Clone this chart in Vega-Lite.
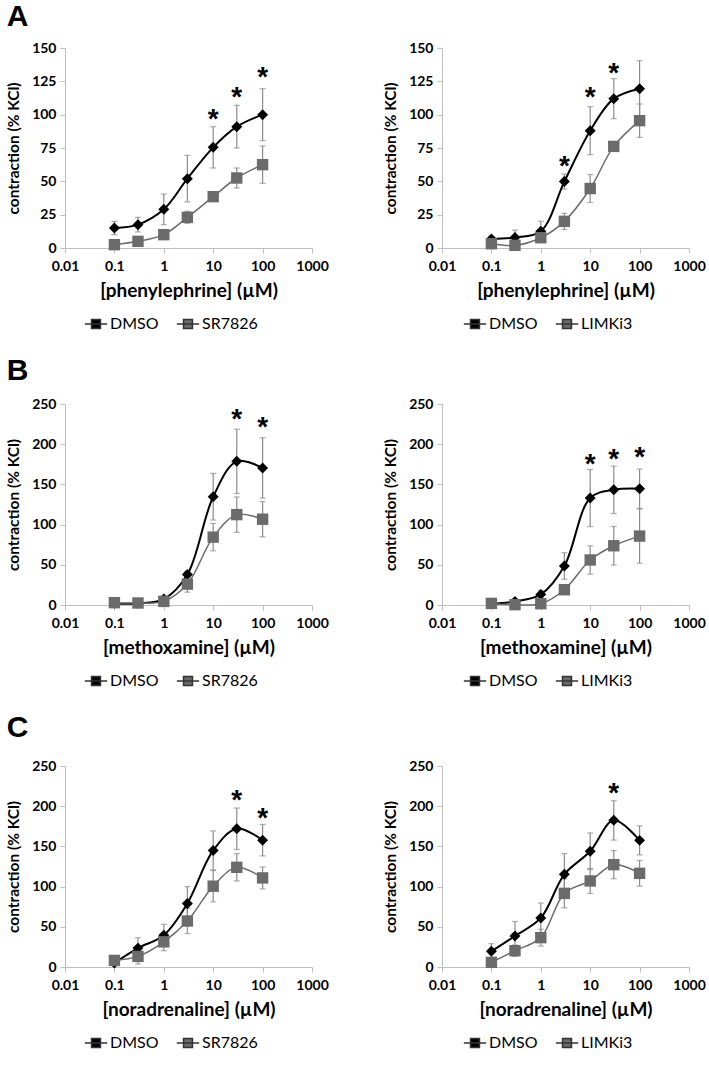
{
  "$schema": "https://vega.github.io/schema/vega-lite/v6.json",
  "padding": {"left": 6, "top": 2, "right": 0, "bottom": 5},
  "background": "white",
  "datasets": {
    "pts": [
      {"panel": "A1", "grp": "DMSO", "conc": 0.1, "value": 15, "err": 5},
      {"panel": "A1", "grp": "DMSO", "conc": 0.3, "value": 17.5, "err": 5.5},
      {"panel": "A1", "grp": "DMSO", "conc": 1, "value": 29, "err": 11.5},
      {"panel": "A1", "grp": "DMSO", "conc": 3, "value": 52, "err": 17.5},
      {"panel": "A1", "grp": "DMSO", "conc": 10, "value": 75.5, "err": 15.5},
      {"panel": "A1", "grp": "DMSO", "conc": 30, "value": 91, "err": 16},
      {"panel": "A1", "grp": "DMSO", "conc": 100, "value": 100, "err": 19.5},
      {"panel": "A1", "grp": "SR7826", "conc": 0.1, "value": 2.5, "err": 2},
      {"panel": "A1", "grp": "SR7826", "conc": 0.3, "value": 5, "err": 2},
      {"panel": "A1", "grp": "SR7826", "conc": 1, "value": 10, "err": 3},
      {"panel": "A1", "grp": "SR7826", "conc": 3, "value": 23, "err": 4.5},
      {"panel": "A1", "grp": "SR7826", "conc": 10, "value": 38.5, "err": 2},
      {"panel": "A1", "grp": "SR7826", "conc": 30, "value": 52.5, "err": 7.5},
      {"panel": "A1", "grp": "SR7826", "conc": 100, "value": 62.5, "err": 14},
      {"panel": "A2", "grp": "DMSO", "conc": 0.1, "value": 6.7, "err": 2},
      {"panel": "A2", "grp": "DMSO", "conc": 0.3, "value": 7.9, "err": 5.5},
      {"panel": "A2", "grp": "DMSO", "conc": 1, "value": 12.6, "err": 7.5},
      {"panel": "A2", "grp": "DMSO", "conc": 3, "value": 49.8, "err": 5.6},
      {"panel": "A2", "grp": "DMSO", "conc": 10, "value": 88, "err": 18},
      {"panel": "A2", "grp": "DMSO", "conc": 30, "value": 112, "err": 15},
      {"panel": "A2", "grp": "DMSO", "conc": 100, "value": 119.5, "err": 21},
      {"panel": "A2", "grp": "LIMKi3", "conc": 0.1, "value": 3.2, "err": 2},
      {"panel": "A2", "grp": "LIMKi3", "conc": 0.3, "value": 2, "err": 2},
      {"panel": "A2", "grp": "LIMKi3", "conc": 1, "value": 7.7, "err": 3},
      {"panel": "A2", "grp": "LIMKi3", "conc": 3, "value": 20, "err": 6},
      {"panel": "A2", "grp": "LIMKi3", "conc": 10, "value": 44.6, "err": 10.5},
      {"panel": "A2", "grp": "LIMKi3", "conc": 30, "value": 76.2, "err": 3.5},
      {"panel": "A2", "grp": "LIMKi3", "conc": 100, "value": 95.5, "err": 12.5},
      {"panel": "B1", "grp": "DMSO", "conc": 0.1, "value": 2, "err": 1},
      {"panel": "B1", "grp": "DMSO", "conc": 0.3, "value": 2, "err": 1},
      {"panel": "B1", "grp": "DMSO", "conc": 1, "value": 7.4, "err": 2},
      {"panel": "B1", "grp": "DMSO", "conc": 3, "value": 37.9, "err": 4},
      {"panel": "B1", "grp": "DMSO", "conc": 10, "value": 134.7, "err": 29},
      {"panel": "B1", "grp": "DMSO", "conc": 30, "value": 178.7, "err": 40},
      {"panel": "B1", "grp": "DMSO", "conc": 100, "value": 170.5, "err": 37.5},
      {"panel": "B1", "grp": "SR7826", "conc": 0.1, "value": 2.9, "err": 1.5},
      {"panel": "B1", "grp": "SR7826", "conc": 0.3, "value": 2.5, "err": 1.5},
      {"panel": "B1", "grp": "SR7826", "conc": 1, "value": 4.5, "err": 2},
      {"panel": "B1", "grp": "SR7826", "conc": 3, "value": 26, "err": 10},
      {"panel": "B1", "grp": "SR7826", "conc": 10, "value": 84.4, "err": 17},
      {"panel": "B1", "grp": "SR7826", "conc": 30, "value": 112.4, "err": 22},
      {"panel": "B1", "grp": "SR7826", "conc": 100, "value": 106.7, "err": 22},
      {"panel": "B2", "grp": "DMSO", "conc": 0.1, "value": 1.6, "err": 1},
      {"panel": "B2", "grp": "DMSO", "conc": 0.3, "value": 4.5, "err": 3},
      {"panel": "B2", "grp": "DMSO", "conc": 1, "value": 13.2, "err": 5},
      {"panel": "B2", "grp": "DMSO", "conc": 3, "value": 48.6, "err": 16.5},
      {"panel": "B2", "grp": "DMSO", "conc": 10, "value": 133, "err": 35.5},
      {"panel": "B2", "grp": "DMSO", "conc": 30, "value": 143.3, "err": 29.5},
      {"panel": "B2", "grp": "DMSO", "conc": 100, "value": 144.6, "err": 24.5},
      {"panel": "B2", "grp": "LIMKi3", "conc": 0.1, "value": 2, "err": 1},
      {"panel": "B2", "grp": "LIMKi3", "conc": 0.3, "value": 0.4, "err": 1},
      {"panel": "B2", "grp": "LIMKi3", "conc": 1, "value": 1.6, "err": 1},
      {"panel": "B2", "grp": "LIMKi3", "conc": 3, "value": 19, "err": 5},
      {"panel": "B2", "grp": "LIMKi3", "conc": 10, "value": 56, "err": 17.7},
      {"panel": "B2", "grp": "LIMKi3", "conc": 30, "value": 73.7, "err": 24},
      {"panel": "B2", "grp": "LIMKi3", "conc": 100, "value": 85.7, "err": 33.7},
      {"panel": "C1", "grp": "DMSO", "conc": 0.1, "value": 4.9, "err": 3},
      {"panel": "C1", "grp": "DMSO", "conc": 0.3, "value": 23.5, "err": 13},
      {"panel": "C1", "grp": "DMSO", "conc": 1, "value": 39.5, "err": 13.5},
      {"panel": "C1", "grp": "DMSO", "conc": 3, "value": 79, "err": 21},
      {"panel": "C1", "grp": "DMSO", "conc": 10, "value": 145, "err": 24.3},
      {"panel": "C1", "grp": "DMSO", "conc": 30, "value": 172, "err": 25.7},
      {"panel": "C1", "grp": "DMSO", "conc": 100, "value": 157.7, "err": 19.5},
      {"panel": "C1", "grp": "SR7826", "conc": 0.1, "value": 8.2, "err": 2},
      {"panel": "C1", "grp": "SR7826", "conc": 0.3, "value": 13.2, "err": 9.5},
      {"panel": "C1", "grp": "SR7826", "conc": 1, "value": 31.3, "err": 11},
      {"panel": "C1", "grp": "SR7826", "conc": 3, "value": 57.2, "err": 15.6},
      {"panel": "C1", "grp": "SR7826", "conc": 10, "value": 100.5, "err": 19.5},
      {"panel": "C1", "grp": "SR7826", "conc": 30, "value": 124, "err": 17},
      {"panel": "C1", "grp": "SR7826", "conc": 100, "value": 110.8, "err": 13.6},
      {"panel": "C2", "grp": "DMSO", "conc": 0.1, "value": 19.5, "err": 9.5},
      {"panel": "C2", "grp": "DMSO", "conc": 0.3, "value": 38.6, "err": 18},
      {"panel": "C2", "grp": "DMSO", "conc": 1, "value": 61, "err": 18.6},
      {"panel": "C2", "grp": "DMSO", "conc": 3, "value": 115.3, "err": 25.7},
      {"panel": "C2", "grp": "DMSO", "conc": 10, "value": 143.9, "err": 22.8},
      {"panel": "C2", "grp": "DMSO", "conc": 30, "value": 182.4, "err": 24.5},
      {"panel": "C2", "grp": "DMSO", "conc": 100, "value": 157.5, "err": 18},
      {"panel": "C2", "grp": "LIMKi3", "conc": 0.1, "value": 5.8, "err": 3},
      {"panel": "C2", "grp": "LIMKi3", "conc": 0.3, "value": 20.3, "err": 7},
      {"panel": "C2", "grp": "LIMKi3", "conc": 1, "value": 36.5, "err": 10.5},
      {"panel": "C2", "grp": "LIMKi3", "conc": 3, "value": 91.6, "err": 18},
      {"panel": "C2", "grp": "LIMKi3", "conc": 10, "value": 107, "err": 15.5},
      {"panel": "C2", "grp": "LIMKi3", "conc": 30, "value": 127.3, "err": 17.5},
      {"panel": "C2", "grp": "LIMKi3", "conc": 100, "value": 116.5, "err": 16}
    ],
    "stars": [
      {"panel": "A1", "conc": 10, "value": 101},
      {"panel": "A1", "conc": 30, "value": 118},
      {"panel": "A1", "conc": 100, "value": 132.5},
      {"panel": "A2", "conc": 3, "value": 66},
      {"panel": "A2", "conc": 10, "value": 118},
      {"panel": "A2", "conc": 30, "value": 135.4},
      {"panel": "B1", "conc": 30, "value": 238.9},
      {"panel": "B1", "conc": 100, "value": 228.6},
      {"panel": "B2", "conc": 10, "value": 182.5},
      {"panel": "B2", "conc": 30, "value": 188.6},
      {"panel": "B2", "conc": 100, "value": 191.5},
      {"panel": "C1", "conc": 30, "value": 214.6},
      {"panel": "C1", "conc": 100, "value": 192.3},
      {"panel": "C2", "conc": 30, "value": 224}
    ]
  },
  "spacing": 24,
  "resolve": {"scale": {"color": "independent"}, "legend": {"color": "independent"}},
  "vconcat": [
    {
      "title": {"text": "A", "offset": 9},
      "spacing": 54,
      "resolve": {"scale": {"color": "independent"}, "legend": {"color": "independent"}},
      "hconcat": [
        {
          "width": 247, "height": 200,
          "encoding": {
            "x": {"field": "conc", "type": "quantitative", "scale": {"type": "log", "domain": [0.01, 1000]}, "axis": {"values": [0.01, 0.1, 1, 10, 100, 1000], "format": "~g", "title": "[phenylephrine] (µM)", "labelOverlap": false, "labelFlush": false}},
            "y": {"field": "value", "type": "quantitative", "scale": {"domain": [0, 150], "nice": false}, "axis": {"values": [0, 25, 50, 75, 100, 125, 150], "title": "contraction (% KCl)"}}
          },
          "layer": [
            {"data": {"name": "pts"}, "transform": [{"filter": "datum.panel === 'A1'"}], "mark": {"type": "errorbar", "thickness": 1.2, "size": 6, "color": "#8c8c8c", "ticks": {"color": "#8c8c8c"}, "rule": {"color": "#8c8c8c"}}, "encoding": {"yError": {"field": "err"}}},
            {"data": {"name": "pts"}, "transform": [{"filter": "datum.panel === 'A1'"}], "mark": {"type": "line", "interpolate": "catmull-rom"}, "encoding": {"detail": {"field": "grp"}, "color": {"condition": {"test": "datum.grp === 'DMSO'", "value": "#000000"}, "value": "#6b6b6b"}, "strokeWidth": {"condition": {"test": "datum.grp === 'DMSO'", "value": 2}, "value": 1.5}}},
            {"data": {"name": "pts"}, "transform": [{"filter": "datum.panel === 'A1'"}], "mark": {"type": "point", "filled": true, "opacity": 1}, "encoding": {
              "color": {"field": "grp", "type": "nominal", "scale": {"domain": ["DMSO", "SR7826"], "range": ["#000000", "#6b6b6b"]}, "legend": {"orient": "none", "legendX": 19, "legendY": 264, "direction": "horizontal", "title": null}},
              "shape": {"condition": {"test": "datum.grp === 'DMSO'", "value": "diamond"}, "value": "square"},
              "size": {"condition": {"test": "datum.grp === 'DMSO'", "value": 120}, "value": 130}
            }},
            {"data": {"name": "stars"}, "transform": [{"filter": "datum.panel === 'A1'"}], "mark": {"type": "text", "text": "*", "fontSize": 28, "fontWeight": "bold", "font": "Liberation Sans", "baseline": "middle", "dy": 7, "color": "black"}}
          ]
        },
        {
          "width": 247, "height": 200,
          "encoding": {
            "x": {"field": "conc", "type": "quantitative", "scale": {"type": "log", "domain": [0.01, 1000]}, "axis": {"values": [0.01, 0.1, 1, 10, 100, 1000], "format": "~g", "title": "[phenylephrine] (µM)", "labelOverlap": false, "labelFlush": false}},
            "y": {"field": "value", "type": "quantitative", "scale": {"domain": [0, 150], "nice": false}, "axis": {"values": [0, 25, 50, 75, 100, 125, 150], "title": "contraction (% KCl)"}}
          },
          "layer": [
            {"data": {"name": "pts"}, "transform": [{"filter": "datum.panel === 'A2'"}], "mark": {"type": "errorbar", "thickness": 1.2, "size": 6, "color": "#8c8c8c", "ticks": {"color": "#8c8c8c"}, "rule": {"color": "#8c8c8c"}}, "encoding": {"yError": {"field": "err"}}},
            {"data": {"name": "pts"}, "transform": [{"filter": "datum.panel === 'A2'"}], "mark": {"type": "line", "interpolate": "catmull-rom"}, "encoding": {"detail": {"field": "grp"}, "color": {"condition": {"test": "datum.grp === 'DMSO'", "value": "#000000"}, "value": "#6b6b6b"}, "strokeWidth": {"condition": {"test": "datum.grp === 'DMSO'", "value": 2}, "value": 1.5}}},
            {"data": {"name": "pts"}, "transform": [{"filter": "datum.panel === 'A2'"}], "mark": {"type": "point", "filled": true, "opacity": 1}, "encoding": {
              "color": {"field": "grp", "type": "nominal", "scale": {"domain": ["DMSO", "LIMKi3"], "range": ["#000000", "#6b6b6b"]}, "legend": {"orient": "none", "legendX": 21, "legendY": 264, "direction": "horizontal", "title": null}},
              "shape": {"condition": {"test": "datum.grp === 'DMSO'", "value": "diamond"}, "value": "square"},
              "size": {"condition": {"test": "datum.grp === 'DMSO'", "value": 120}, "value": 130}
            }},
            {"data": {"name": "stars"}, "transform": [{"filter": "datum.panel === 'A2'"}], "mark": {"type": "text", "text": "*", "fontSize": 28, "fontWeight": "bold", "font": "Liberation Sans", "baseline": "middle", "dy": 7, "color": "black"}}
          ]
        }
      ]
    },
    {
      "title": {"text": "B", "offset": 11},
      "spacing": 54,
      "resolve": {"scale": {"color": "independent"}, "legend": {"color": "independent"}},
      "hconcat": [
        {
          "width": 247, "height": 201,
          "encoding": {
            "x": {"field": "conc", "type": "quantitative", "scale": {"type": "log", "domain": [0.01, 1000]}, "axis": {"values": [0.01, 0.1, 1, 10, 100, 1000], "format": "~g", "title": "[methoxamine] (µM)", "labelOverlap": false, "labelFlush": false}},
            "y": {"field": "value", "type": "quantitative", "scale": {"domain": [0, 250], "nice": false}, "axis": {"values": [0, 50, 100, 150, 200, 250], "title": "contraction (% KCl)"}}
          },
          "layer": [
            {"data": {"name": "pts"}, "transform": [{"filter": "datum.panel === 'B1'"}], "mark": {"type": "errorbar", "thickness": 1.2, "size": 6, "color": "#8c8c8c", "ticks": {"color": "#8c8c8c"}, "rule": {"color": "#8c8c8c"}}, "encoding": {"yError": {"field": "err"}}},
            {"data": {"name": "pts"}, "transform": [{"filter": "datum.panel === 'B1'"}], "mark": {"type": "line", "interpolate": "catmull-rom"}, "encoding": {"detail": {"field": "grp"}, "color": {"condition": {"test": "datum.grp === 'DMSO'", "value": "#000000"}, "value": "#6b6b6b"}, "strokeWidth": {"condition": {"test": "datum.grp === 'DMSO'", "value": 2}, "value": 1.5}}},
            {"data": {"name": "pts"}, "transform": [{"filter": "datum.panel === 'B1'"}], "mark": {"type": "point", "filled": true, "opacity": 1}, "encoding": {
              "color": {"field": "grp", "type": "nominal", "scale": {"domain": ["DMSO", "SR7826"], "range": ["#000000", "#6b6b6b"]}, "legend": {"orient": "none", "legendX": 19, "legendY": 265, "direction": "horizontal", "title": null}},
              "shape": {"condition": {"test": "datum.grp === 'DMSO'", "value": "diamond"}, "value": "square"},
              "size": {"condition": {"test": "datum.grp === 'DMSO'", "value": 120}, "value": 130}
            }},
            {"data": {"name": "stars"}, "transform": [{"filter": "datum.panel === 'B1'"}], "mark": {"type": "text", "text": "*", "fontSize": 28, "fontWeight": "bold", "font": "Liberation Sans", "baseline": "middle", "dy": 7, "color": "black"}}
          ]
        },
        {
          "width": 247, "height": 201,
          "encoding": {
            "x": {"field": "conc", "type": "quantitative", "scale": {"type": "log", "domain": [0.01, 1000]}, "axis": {"values": [0.01, 0.1, 1, 10, 100, 1000], "format": "~g", "title": "[methoxamine] (µM)", "labelOverlap": false, "labelFlush": false}},
            "y": {"field": "value", "type": "quantitative", "scale": {"domain": [0, 250], "nice": false}, "axis": {"values": [0, 50, 100, 150, 200, 250], "title": "contraction (% KCl)"}}
          },
          "layer": [
            {"data": {"name": "pts"}, "transform": [{"filter": "datum.panel === 'B2'"}], "mark": {"type": "errorbar", "thickness": 1.2, "size": 6, "color": "#8c8c8c", "ticks": {"color": "#8c8c8c"}, "rule": {"color": "#8c8c8c"}}, "encoding": {"yError": {"field": "err"}}},
            {"data": {"name": "pts"}, "transform": [{"filter": "datum.panel === 'B2'"}], "mark": {"type": "line", "interpolate": "catmull-rom"}, "encoding": {"detail": {"field": "grp"}, "color": {"condition": {"test": "datum.grp === 'DMSO'", "value": "#000000"}, "value": "#6b6b6b"}, "strokeWidth": {"condition": {"test": "datum.grp === 'DMSO'", "value": 2}, "value": 1.5}}},
            {"data": {"name": "pts"}, "transform": [{"filter": "datum.panel === 'B2'"}], "mark": {"type": "point", "filled": true, "opacity": 1}, "encoding": {
              "color": {"field": "grp", "type": "nominal", "scale": {"domain": ["DMSO", "LIMKi3"], "range": ["#000000", "#6b6b6b"]}, "legend": {"orient": "none", "legendX": 21, "legendY": 265, "direction": "horizontal", "title": null}},
              "shape": {"condition": {"test": "datum.grp === 'DMSO'", "value": "diamond"}, "value": "square"},
              "size": {"condition": {"test": "datum.grp === 'DMSO'", "value": 120}, "value": 130}
            }},
            {"data": {"name": "stars"}, "transform": [{"filter": "datum.panel === 'B2'"}], "mark": {"type": "text", "text": "*", "fontSize": 28, "fontWeight": "bold", "font": "Liberation Sans", "baseline": "middle", "dy": 7, "color": "black"}}
          ]
        }
      ]
    },
    {
      "title": {"text": "C", "offset": 16},
      "spacing": 54,
      "resolve": {"scale": {"color": "independent"}, "legend": {"color": "independent"}},
      "hconcat": [
        {
          "width": 247, "height": 201,
          "encoding": {
            "x": {"field": "conc", "type": "quantitative", "scale": {"type": "log", "domain": [0.01, 1000]}, "axis": {"values": [0.01, 0.1, 1, 10, 100, 1000], "format": "~g", "title": "[noradrenaline] (µM)", "labelOverlap": false, "labelFlush": false}},
            "y": {"field": "value", "type": "quantitative", "scale": {"domain": [0, 250], "nice": false}, "axis": {"values": [0, 50, 100, 150, 200, 250], "title": "contraction (% KCl)"}}
          },
          "layer": [
            {"data": {"name": "pts"}, "transform": [{"filter": "datum.panel === 'C1'"}], "mark": {"type": "errorbar", "thickness": 1.2, "size": 6, "color": "#8c8c8c", "ticks": {"color": "#8c8c8c"}, "rule": {"color": "#8c8c8c"}}, "encoding": {"yError": {"field": "err"}}},
            {"data": {"name": "pts"}, "transform": [{"filter": "datum.panel === 'C1'"}], "mark": {"type": "line", "interpolate": "catmull-rom"}, "encoding": {"detail": {"field": "grp"}, "color": {"condition": {"test": "datum.grp === 'DMSO'", "value": "#000000"}, "value": "#6b6b6b"}, "strokeWidth": {"condition": {"test": "datum.grp === 'DMSO'", "value": 2}, "value": 1.5}}},
            {"data": {"name": "pts"}, "transform": [{"filter": "datum.panel === 'C1'"}], "mark": {"type": "point", "filled": true, "opacity": 1}, "encoding": {
              "color": {"field": "grp", "type": "nominal", "scale": {"domain": ["DMSO", "SR7826"], "range": ["#000000", "#6b6b6b"]}, "legend": {"orient": "none", "legendX": 19, "legendY": 265, "direction": "horizontal", "title": null}},
              "shape": {"condition": {"test": "datum.grp === 'DMSO'", "value": "diamond"}, "value": "square"},
              "size": {"condition": {"test": "datum.grp === 'DMSO'", "value": 120}, "value": 130}
            }},
            {"data": {"name": "stars"}, "transform": [{"filter": "datum.panel === 'C1'"}], "mark": {"type": "text", "text": "*", "fontSize": 28, "fontWeight": "bold", "font": "Liberation Sans", "baseline": "middle", "dy": 7, "color": "black"}}
          ]
        },
        {
          "width": 247, "height": 201,
          "encoding": {
            "x": {"field": "conc", "type": "quantitative", "scale": {"type": "log", "domain": [0.01, 1000]}, "axis": {"values": [0.01, 0.1, 1, 10, 100, 1000], "format": "~g", "title": "[noradrenaline] (µM)", "labelOverlap": false, "labelFlush": false}},
            "y": {"field": "value", "type": "quantitative", "scale": {"domain": [0, 250], "nice": false}, "axis": {"values": [0, 50, 100, 150, 200, 250], "title": "contraction (% KCl)"}}
          },
          "layer": [
            {"data": {"name": "pts"}, "transform": [{"filter": "datum.panel === 'C2'"}], "mark": {"type": "errorbar", "thickness": 1.2, "size": 6, "color": "#8c8c8c", "ticks": {"color": "#8c8c8c"}, "rule": {"color": "#8c8c8c"}}, "encoding": {"yError": {"field": "err"}}},
            {"data": {"name": "pts"}, "transform": [{"filter": "datum.panel === 'C2'"}], "mark": {"type": "line", "interpolate": "catmull-rom"}, "encoding": {"detail": {"field": "grp"}, "color": {"condition": {"test": "datum.grp === 'DMSO'", "value": "#000000"}, "value": "#6b6b6b"}, "strokeWidth": {"condition": {"test": "datum.grp === 'DMSO'", "value": 2}, "value": 1.5}}},
            {"data": {"name": "pts"}, "transform": [{"filter": "datum.panel === 'C2'"}], "mark": {"type": "point", "filled": true, "opacity": 1}, "encoding": {
              "color": {"field": "grp", "type": "nominal", "scale": {"domain": ["DMSO", "LIMKi3"], "range": ["#000000", "#6b6b6b"]}, "legend": {"orient": "none", "legendX": 21, "legendY": 265, "direction": "horizontal", "title": null}},
              "shape": {"condition": {"test": "datum.grp === 'DMSO'", "value": "diamond"}, "value": "square"},
              "size": {"condition": {"test": "datum.grp === 'DMSO'", "value": 120}, "value": 130}
            }},
            {"data": {"name": "stars"}, "transform": [{"filter": "datum.panel === 'C2'"}], "mark": {"type": "text", "text": "*", "fontSize": 28, "fontWeight": "bold", "font": "Liberation Sans", "baseline": "middle", "dy": 7, "color": "black"}}
          ]
        }
      ]
    }
  ],
  "config": {
    "view": {"stroke": null},
    "font": "Lato",
    "title": {"anchor": "start", "font": "Liberation Sans", "fontSize": 30, "fontWeight": "bold", "color": "black", "frame": "bounds"},
    "axis": {"grid": false, "domainColor": "#bfbfbf", "tickColor": "#bfbfbf", "tickSize": 5, "labelFont": "Lato", "labelFontWeight": "bold", "labelFontSize": 14, "labelColor": "black", "labelPadding": 4, "titleFont": "Lato", "titleFontWeight": "bold", "titleColor": "black"},
    "axisX": {"titlePadding": 8, "titleFontSize": 19, "labelPadding": 6},
    "axisY": {"titlePadding": 10, "titleFontSize": 15.5},
    "legend": {"labelFont": "Lato", "labelFontSize": 16, "labelColor": "black", "symbolSize": 500, "columnPadding": 14, "labelOffset": 2, "symbolType": "M-1,0L1,0M-0.4,-0.4L0.4,-0.4L0.4,0.4L-0.4,0.4Z", "symbolStrokeColor": "#333333", "symbolStrokeWidth": 1.5}
  }
}
